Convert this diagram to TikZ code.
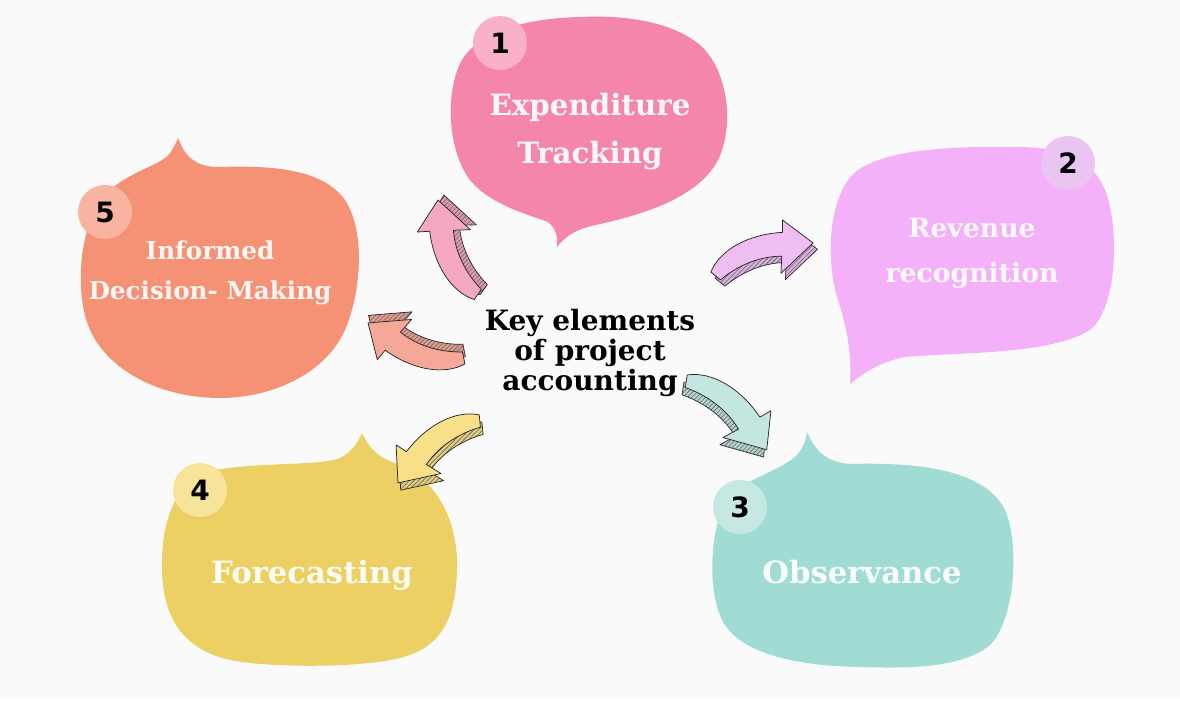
\documentclass[tikz,border=0pt]{standalone}
\usepackage{fontspec}
\setmainfont{DejaVu Serif}
\newfontfamily\numfont{DejaVu Sans}
\usetikzlibrary{patterns.meta}
\definecolor{bgc}{HTML}{FAFAFA}
\definecolor{pinkB}{HTML}{F487A9}
\definecolor{violetB}{HTML}{F4B0F8}
\definecolor{tealB}{HTML}{A1DCD4}
\definecolor{yellowB}{HTML}{ECD064}
\definecolor{salmonB}{HTML}{F59175}
\definecolor{pinkC}{HTML}{F9B1C7}
\definecolor{violetC}{HTML}{EBC5F1}
\definecolor{tealC}{HTML}{C6E8E3}
\definecolor{yellowC}{HTML}{F7E49B}
\definecolor{salmonC}{HTML}{F8B3A1}
\definecolor{pinkA}{HTML}{F6A7C2}
\definecolor{violetA}{HTML}{EFBDF2}
\definecolor{tealA}{HTML}{C3E6E0}
\definecolor{yellowA}{HTML}{F8DF88}
\definecolor{salmonA}{HTML}{F5A897}
\def\arrowshape{(0,-6) .. controls (15,-23) and (45,-28) .. (76,-19) -- (80,-30) -- (100,0) -- (62,17) -- (68,2) .. controls (45,-6) and (22,-2) .. (6,4) -- cycle}
\tikzset{
  bubbletext/.style={text=white!93!#1, align=center, font=\bfseries},
  badge/.style={circle, fill=#1, minimum size=40.5pt, inner sep=0pt, font=\numfont\bfseries\fontsize{21}{21}\selectfont, text=black},
  pics/harrow/.style={code={
    \begin{scope}[shift={(2,7)}]
      \path[fill=#1!92!black] \arrowshape;
      \path[pattern={Lines[angle=45,distance=2.4pt,line width=0.45pt]}, pattern color=black!60] \arrowshape;
      \draw[line width=0.5pt, black!85, line join=round] \arrowshape;
    \end{scope}
    \path[fill=#1] \arrowshape;
    \draw[line width=0.55pt, black!85, line join=round] \arrowshape;
  }}
}
\begin{document}
\begin{tikzpicture}[x=0.75pt,y=-0.75pt]
\useasboundingbox (0,0) rectangle (1180,700);
\fill[bgc] (0,0) rectangle (1180,700);

% Bubble 1 (pink)
\fill[pinkB] (557,247) .. controls (566,236) and (575,229) .. (600,224)
  .. controls (650,213) and (700,195) .. (718,160)
  .. controls (735,125) and (728,70) .. (700,45)
  .. controls (670,20) and (620,15) .. (580,17)
  .. controls (530,18) and (480,30) .. (462,60)
  .. controls (445,90) and (447,150) .. (470,180)
  .. controls (490,205) and (530,215) .. (548,222)
  .. controls (556,228) and (558,238) .. (557,247) -- cycle;
% Bubble 2 (violet)
\fill[violetB] (850,384) .. controls (865,372) and (880,362) .. (905,357)
  .. controls (960,352) and (1050,355) .. (1090,330)
  .. controls (1120,305) and (1118,220) .. (1105,190)
  .. controls (1090,155) and (1060,148) .. (1020,147)
  .. controls (960,146) and (890,148) .. (858,170)
  .. controls (828,192) and (825,260) .. (838,300)
  .. controls (848,330) and (852,360) .. (850,384) -- cycle;
% Bubble 3 (teal)
\fill[tealB] (807,432) .. controls (815,450) and (825,462) .. (850,464)
  .. controls (920,462) and (985,470) .. (1005,510)
  .. controls (1020,545) and (1015,620) .. (990,645)
  .. controls (960,670) and (900,668) .. (860,667)
  .. controls (800,666) and (745,655) .. (725,625)
  .. controls (705,595) and (710,520) .. (730,495)
  .. controls (745,480) and (785,468) .. (797,455)
  .. controls (803,448) and (806,440) .. (807,432) -- cycle;
% Bubble 4 (yellow)
\fill[yellowB] (362,433) .. controls (370,450) and (380,458) .. (395,463)
  .. controls (430,475) and (455,510) .. (457,560)
  .. controls (458,620) and (440,648) .. (400,658)
  .. controls (360,668) and (270,668) .. (230,660)
  .. controls (185,650) and (163,620) .. (162,570)
  .. controls (161,520) and (175,480) .. (215,470)
  .. controls (260,462) and (320,466) .. (340,458)
  .. controls (352,452) and (358,442) .. (362,433) -- cycle;
% Bubble 5 (salmon)
\fill[salmonB] (178,138) .. controls (185,155) and (192,165) .. (215,167)
  .. controls (260,166) and (320,165) .. (345,200)
  .. controls (365,230) and (362,290) .. (345,330)
  .. controls (325,375) and (270,398) .. (220,398)
  .. controls (160,398) and (105,370) .. (88,325)
  .. controls (75,290) and (78,220) .. (110,190)
  .. controls (135,168) and (165,165) .. (172,150)
  .. controls (175,145) and (177,141) .. (178,138) -- cycle;

% badges
\node[badge=pinkC] (b1) at (500,43) {1};
\node[badge=violetC] (b2) at (1068,163) {2};
\node[badge=tealC] (b3) at (740,507) {3};
\node[badge=yellowC] (b4) at (200,490) {4};
\node[badge=salmonC] (b5) at (105,212) {5};

% bubble texts
\node[bubbletext=pinkB, font=\bfseries\fontsize{22}{36}\selectfont] (t1) at (590,132) {Expenditure\\Tracking};
\node[bubbletext=violetB, font=\bfseries\fontsize{20}{34}\selectfont] (t2) at (972,253) {Revenue\\recognition};
\node[bubbletext=tealB, font=\bfseries\fontsize{23}{30}\selectfont, anchor=base] (t3) at (862,583) {Observance};
\node[bubbletext=yellowB, font=\bfseries\fontsize{23}{30}\selectfont, anchor=base] (t4) at (312,583) {Forecasting};
\node[bubbletext=salmonB, font=\bfseries\fontsize{18.5}{30}\selectfont] (t5) at (210,273) {Informed\\Decision- Making};

% center
\node[align=center, font=\bfseries\fontsize{21}{22.5}\selectfont, text=black] (key) at (590,353) {Key elements\\of project\\accounting};

% arrows
\pic[rotate=113.4, scale=1.057] (a1) at (480,297) {harrow=pinkA};
\pic[rotate=19.3, scale=1.06] (a2) at (713,278) {harrow=violetA};
\pic[rotate=-39.8, scale=1.09] (a3) at (683,380) {harrow=tealA};
\pic[rotate=216.5, scale=1.058, yscale=-1] (a4) at (483,420) {harrow=yellowA};
\pic[rotate=160.5, scale=1.05] (a5) at (467,358) {harrow=salmonA};
\end{tikzpicture}
\end{document}
